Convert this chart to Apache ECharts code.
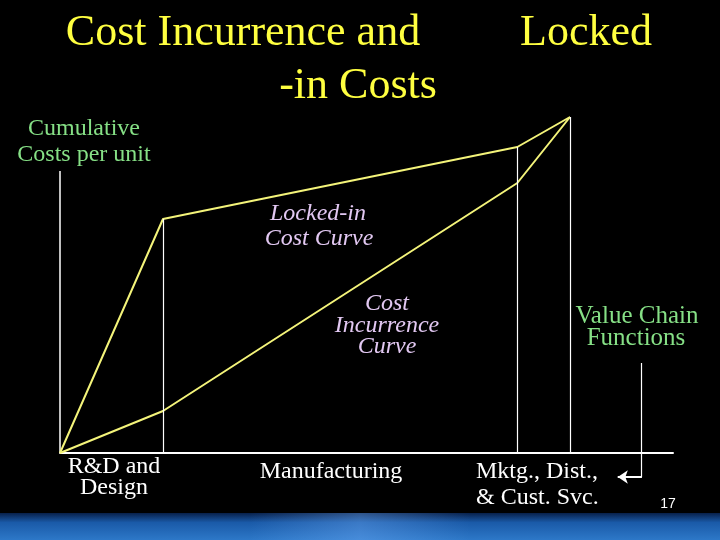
<!DOCTYPE html>
<html><head><meta charset="utf-8">
<script src="https://cdn.jsdelivr.net/npm/echarts@6/dist/echarts.min.js"></script>
<style>html,body{margin:0;padding:0;background:#000;}#c{width:720px;height:540px;}</style>
</head><body><div id="c"></div>
<script>
// Stage boundary positions along the value chain (0..100 scale)
var stageX = [0, 16.8, 74.6, 83.2];
// Cumulative costs per unit
var lockedIn = [0, 78, 102, 112];
var incurrence = [0, 14, 90, 112];
var yAxisTop = 94;
var pointerX = 94.9, pointerTop = 30, pointerLevel = -8, pointerEnd = 91;
var stageLabels = ['R&D and\nDesign', 'Manufacturing', 'Mktg., Dist.,\n& Cust. Svc.'];

var chart = echarts.init(document.getElementById('c'));
var serif = '"Liberation Serif","Times New Roman",serif';
function pts(ys){ return stageX.map(function(x,i){ return [x, ys[i]]; }); }
var yellow = '#f4f47a';
var verticals = [];
for (var i = 1; i < stageX.length; i++) {
  verticals.push([{coord:[stageX[i], 0]}, {coord:[stageX[i], lockedIn[i]]}]);
}
function txt(t, x, y, fs, color, opts){
  opts = opts || {};
  return {type:'text', x:x, y:y, z:10, style:{text:t, fill:color, font:(opts.italic?'italic ':'')+fs+'px '+(opts.family||serif), textAlign:opts.align||'center', textVerticalAlign:'middle', lineHeight:opts.lh||fs}};
}
chart.setOption({
  backgroundColor:'#000',
  animation:false,
  grid:{left:60, right:47, top:93, bottom:27},
  xAxis:{type:'value', min:0, max:100, axisLine:{onZero:true, lineStyle:{color:'#fff', width:2}}, axisTick:{show:false}, axisLabel:{show:false}, splitLine:{show:false}},
  yAxis:{type:'value', min:-20, max:120, show:false},
  series:[
    {type:'line', data:[[0,0],[0,yAxisTop]], symbol:'none', lineStyle:{color:'#fff', width:1.5}, z:1,
     markLine:{silent:true, symbol:['none','none'], label:{show:false}, lineStyle:{color:'#fff', width:1.2, type:'solid'}, data:verticals.concat([
       [{coord:[pointerX, pointerTop]}, {coord:[pointerX, pointerLevel]}]
     ])}},
    {type:'line', data:[[pointerX, pointerLevel],[pointerEnd, pointerLevel]], symbol:'none', lineStyle:{color:'#fff', width:2},
     markLine:{silent:true, symbol:['none','arrow'], symbolSize:10, label:{show:false}, lineStyle:{color:'#fff', width:2, type:'solid'},
       data:[[{coord:[pointerX, pointerLevel]}, {coord:[pointerEnd, pointerLevel]}]]}},
    {name:'Locked-in Cost Curve', type:'line', data:pts(lockedIn), symbol:'none', lineStyle:{color:yellow, width:2}, z:3},
    {name:'Cost Incurrence Curve', type:'line', data:pts(incurrence), symbol:'none', lineStyle:{color:yellow, width:2}, z:3}
  ],
  graphic:[
    {type:'rect', shape:{x:0, y:513, width:720, height:27}, z:0, style:{fill:{type:'linear', x:0, y:0, x2:0, y2:1, colorStops:[{offset:0, color:'#08204a'},{offset:0.35, color:'#1a5aa8'},{offset:1, color:'#2d78c8'}]}}},
    {type:'rect', shape:{x:250, y:513, width:220, height:27}, z:0, style:{fill:{type:'linear', x:0, y:0, x2:1, y2:0, colorStops:[{offset:0, color:'rgba(120,180,255,0)'},{offset:0.5, color:'rgba(120,180,255,0.35)'},{offset:1, color:'rgba(120,180,255,0)'}]}}},
    txt('Cost Incurrence and', 243, 33, 44, '#ffff40'),
    txt('Locked', 586, 33, 44, '#ffff40'),
    txt('-in Costs', 358, 86, 44, '#ffff40'),
    txt('Cumulative', 84, 129, 24, '#86e086'),
    txt('Costs per unit', 84, 155, 24, '#86e086'),
    txt('Value Chain', 637, 316, 25, '#86e086'),
    txt('Functions', 636, 338, 25, '#86e086'),
    txt('Locked-in', 318, 214, 24, '#e2c8f2', {italic:true}),
    txt('Cost Curve', 319, 239, 24, '#e2c8f2', {italic:true}),
    txt('Cost', 387, 304, 24, '#e2c8f2', {italic:true}),
    txt('Incurrence', 387, 326, 24, '#e2c8f2', {italic:true}),
    txt('Curve', 387, 347, 24, '#e2c8f2', {italic:true}),
    txt(stageLabels[0].split('\n')[0], 114, 467, 24, '#fff'),
    txt(stageLabels[0].split('\n')[1], 114, 488, 24, '#fff'),
    txt(stageLabels[1], 331, 472, 24, '#fff'),
    txt(stageLabels[2].split('\n')[0], 476, 472, 24, '#fff', {align:'left'}),
    txt(stageLabels[2].split('\n')[1], 476, 498, 24, '#fff', {align:'left'}),
    txt('17', 668, 504, 14, '#fff', {family:'"Liberation Sans",Arial,sans-serif'})
  ]
});
</script></body></html>
